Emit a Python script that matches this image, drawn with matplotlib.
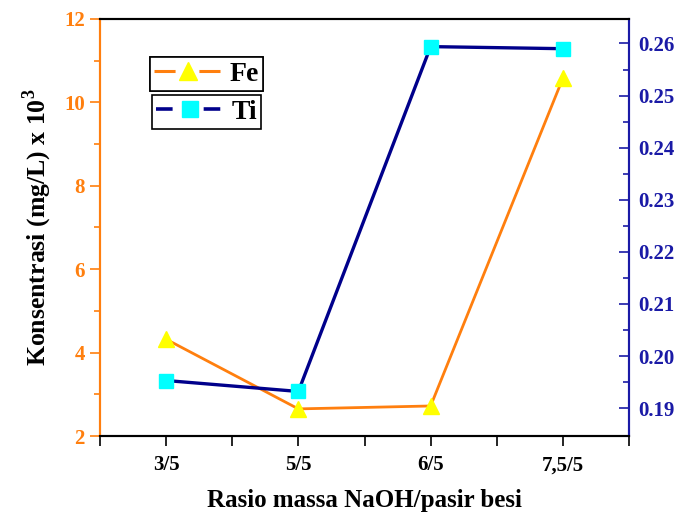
import numpy as np
import matplotlib.pyplot as plt
from matplotlib.lines import Line2D
from matplotlib.legend_handler import HandlerTuple
from matplotlib.ticker import MultipleLocator, FixedLocator

plt.rcParams['font.family'] = ['Liberation Serif', 'DejaVu Serif']
plt.rcParams['font.weight'] = 'bold'
plt.rcParams['mathtext.fontset'] = 'custom'
plt.rcParams['mathtext.bf'] = 'Liberation Serif:bold'

categories = ['3/5', '5/5', '6/5', '7,5/5']
fe_values = [4.32, 2.65, 2.72, 10.58]
ti_values = [0.1953, 0.1932, 0.2594, 0.2590]

orange = '#FF7F0E'
navy = '#1A1AA6'

fig = plt.figure(figsize=(6.93, 5.12), dpi=100)
ax = fig.add_axes([100/693, 1 - 436/512, 529/693, 417/512])
ax2 = ax.twinx()

x = np.arange(1, len(categories) + 1)
ax.plot(x, fe_values, color=orange, lw=2, marker='^', ms=11,
        mfc='#FFFF00', mec='#FFFF00', zorder=3)
ax2.plot(x, ti_values, color='#00008B', lw=2.4, marker='s', ms=9.5,
         mfc='#00FFFF', mec='#00FFFF', zorder=3)

ax.set_xlim(0.5, 4.5)
ax.set_xticks(x)
ax.set_xticklabels(categories)
ax.xaxis.set_minor_locator(FixedLocator([0.5, 1.5, 2.5, 3.5, 4.5]))
ax.set_ylim(2, 12)
ax.yaxis.set_major_locator(MultipleLocator(2))
ax.yaxis.set_minor_locator(MultipleLocator(1))
ax2.set_ylim(0.18465, 0.2647)
ax2.yaxis.set_major_locator(FixedLocator([0.19, 0.20, 0.21, 0.22, 0.23, 0.24, 0.25, 0.26]))
ax2.yaxis.set_minor_locator(FixedLocator([0.195, 0.205, 0.215, 0.225, 0.235, 0.245, 0.255]))
ax2.set_yticklabels(['0.19', '0.20', '0.21', '0.22', '0.23', '0.24', '0.25', '0.26'])

ax.tick_params(axis='x', which='major', direction='out', length=7, width=1.2, labelsize=15, pad=7)
ax.tick_params(axis='x', which='minor', direction='out', length=7, width=1.2)
ax.tick_params(axis='y', which='major', direction='out', length=7, width=1.2,
               colors=orange, labelsize=15, pad=4)
ax.tick_params(axis='y', which='minor', direction='out', length=4, width=1.2, colors=orange)
ax2.tick_params(axis='y', which='major', direction='in', length=7, width=1.2,
                colors=navy, labelsize=15, pad=6.5)
ax2.tick_params(axis='y', which='minor', direction='in', length=4, width=1.2, colors=navy)

for a in (ax, ax2):
    a.spines['left'].set_color(orange)
    a.spines['right'].set_color(navy)
    for s in a.spines.values():
        s.set_linewidth(1.5)

ax.set_ylabel('Konsentrasi (mg/L) x 10$^\\mathbf{3}$', fontsize=18.5, fontweight='bold', labelpad=7)
ax.set_xlabel('Rasio massa NaOH/pasir besi', fontsize=18, fontweight='bold', labelpad=10)

# legend handles: dashed line pieces with a marker on top
fe_line = Line2D([], [], color=orange, lw=2.2, ls=(0, (6.9, 7.8)))
fe_mark = Line2D([], [], ls='none', marker='^', ms=13, mfc='#FFFF00', mec='#FFFF00')
ti_line = Line2D([], [], color='#00008B', lw=2.6, ls=(0, (4.6, 8.6)))
ti_mark = Line2D([], [], ls='none', marker='s', ms=12, mfc='#00FFFF', mec='#00FFFF')

leg1 = ax.legend([(fe_line, fe_mark)], ['Fe'], handler_map={tuple: HandlerTuple(ndivide=1, pad=0)},
                 loc='upper left', bbox_to_anchor=(50/529, 1 - 38/417),
                 fancybox=False, edgecolor='black', framealpha=1, prop={'size': 20, 'weight': 'bold'},
                 borderpad=0.15, handlelength=2.4, handletextpad=0.3, borderaxespad=0)
leg1.get_frame().set_linewidth(1.2)
ax.add_artist(leg1)
leg2 = ax2.legend([(ti_line, ti_mark)], ['Ti'], handler_map={tuple: HandlerTuple(ndivide=1, pad=0)},
                  loc='upper left', bbox_to_anchor=(52/529, 1 - 76/417),
                  fancybox=False, edgecolor='black', framealpha=1, prop={'size': 20, 'weight': 'bold'},
                  borderpad=0.15, handlelength=2.4, handletextpad=0.3, borderaxespad=0)
leg2.get_frame().set_linewidth(1.2)

fig.savefig('out.png', dpi=100)
